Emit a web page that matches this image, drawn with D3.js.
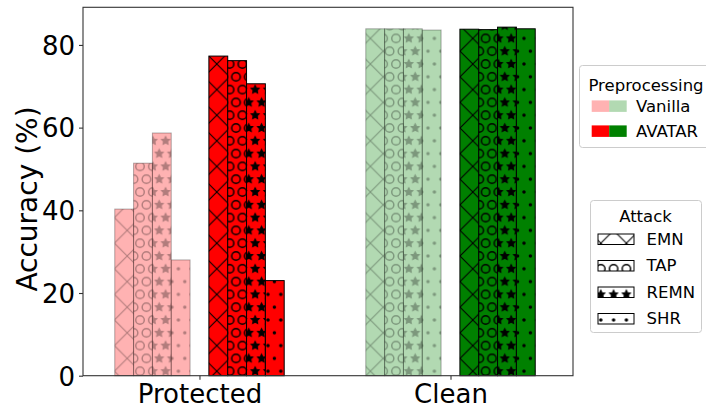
<!DOCTYPE html>
<html><head><meta charset="utf-8">
<script src="https://cdn.jsdelivr.net/npm/d3@7/dist/d3.min.js"></script>
<style>html,body{margin:0;padding:0;background:#fff}svg{display:block}</style>
</head><body>
<script>
// ---- data ----
const categories = ["Protected", "Clean"];
const attacks = ["EMN", "TAP", "REMN", "SHR"];
const preprocessings = ["Vanilla", "AVATAR"];
const vanillaProtected = [40.3, 51.4, 58.7, 28.0];
const avatarProtected = [77.3, 76.2, 70.6, 23.0];
const vanillaClean = [83.9, 83.9, 83.9, 83.6];
const avatarClean = [83.8, 83.7, 84.3, 83.9];
const yTicks = [0, 20, 40, 60, 80];
const yLabel = "Accuracy (%)";
const legendTitle1 = "Preprocessing";
const legendTitle2 = "Attack";

const W = 706, H = 409;
const FONT = "DejaVu Sans, Liberation Sans, sans-serif";
const RED = "#ff0000", GREEN = "#008000";
const catColors = [RED, GREEN];

const x = d3.scaleLinear().domain([-0.464, 1.488]).range([83, 573]);
const y = d3.scaleLinear().domain([0, 89.1]).range([375.7, 7.3]);
const barW = 0.075;

const svg = d3.select("body").append("svg").attr("width", W).attr("height", H)
  .attr("font-family", FONT);
const defs = svg.append("defs");

// hatch lattice (device-anchored)
const S = 12.8, OX = 12.0, OY = 12.8;
function starPath(cx, cy, R) {
  let p = "";
  for (let k = 0; k < 10; k++) {
    const a = -Math.PI / 2 + k * Math.PI / 5;
    const r = k % 2 === 0 ? R : R * 0.5;
    p += (k === 0 ? "M" : "L") + (cx + r * Math.cos(a)).toFixed(2) + "," + (cy + r * Math.sin(a)).toFixed(2);
  }
  return p + "Z";
}
const latticePts = [[0, 0], [S, 0], [0, 2 * S], [S, 2 * S], [S / 2, S]];
function makePattern(attack, shade) {
  const id = "h-" + attack + "-" + shade;
  const isX = attack === "EMN";
  const pw = isX ? 2 * S : S, ph = 2 * S;
  const pat = defs.append("pattern").attr("id", id).attr("patternUnits", "userSpaceOnUse")
    .attr("x", OX).attr("y", OY).attr("width", pw).attr("height", ph);
  const g = pat.append("g").attr("opacity", shade === "light" ? 0.3 : 1);
  if (isX) {
    const L = 2 * S;
    g.append("path").attr("d",
      `M-3,-3L${L + 3},${L + 3}M${L + 3},-3L-3,${L + 3}` +
      `M-3,${L - 3}L3,${L + 3}M${L - 3},-3L${L + 3},3` +
      `M-3,3L3,-3M${L - 3},${L + 3}L${L + 3},${L - 3}`)
      .attr("stroke", "#000").attr("stroke-width", 1.05).attr("fill", "none");
  } else if (attack === "TAP") {
    latticePts.forEach(([px, py]) => g.append("circle").attr("cx", px).attr("cy", py)
      .attr("r", 4.25).attr("fill", "none").attr("stroke", "#000").attr("stroke-width", 1.45));
  } else if (attack === "REMN") {
    latticePts.forEach(([px, py]) => g.append("path").attr("d", starPath(px, py, 4.3))
      .attr("fill", "#000").attr("stroke", "#000").attr("stroke-width", 1).attr("stroke-linejoin", "miter"));
  } else {
    latticePts.forEach(([px, py]) => g.append("circle").attr("cx", px).attr("cy", py)
      .attr("r", 1.75).attr("fill", "#000"));
  }
  return id;
}
const patIds = {};
attacks.forEach(a => { patIds[a] = { dark: makePattern(a, "dark"), light: makePattern(a, "light") }; });

// ---- bars ----
const seriesValues = [[vanillaProtected, vanillaClean], [avatarProtected, avatarClean]];
const bars = [];
preprocessings.forEach((pp, pi) => {
  attacks.forEach((att, ai) => {
    categories.forEach((cat, ci) => {
      const slot = pi === 0 ? ai - 4 : ai + 1;
      bars.push({ pp, pi, att, ai, cat, ci, slot, value: seriesValues[pi][ci][ai] });
    });
  });
});
const barLayer = svg.append("g");
bars.forEach(b => {
  const x0 = x(b.ci + b.slot * barW - barW / 2), x1 = x(b.ci + b.slot * barW + barW / 2);
  const y0 = y(b.value), y1 = y(0);
  const g = barLayer.append("g");
  const light = b.pi === 0;
  g.append("rect").attr("x", x0).attr("y", y0).attr("width", x1 - x0).attr("height", y1 - y0)
    .attr("fill", catColors[b.ci]).attr("fill-opacity", light ? 0.3 : 1);
  g.append("rect").attr("x", x0).attr("y", y0).attr("width", x1 - x0).attr("height", y1 - y0)
    .attr("fill", `url(#${patIds[b.att][light ? "light" : "dark"]})`);
  g.append("rect").attr("x", x0).attr("y", y0).attr("width", x1 - x0).attr("height", y1 - y0)
    .attr("fill", "none").attr("stroke", "#000").attr("stroke-opacity", light ? 0.3 : 1)
    .attr("stroke-width", 1);
});

// ---- axes ----
const [ax0, ax1] = x.range(), [ay0, ay1] = y.range();
svg.append("rect").attr("x", ax0).attr("y", ay1).attr("width", ax1 - ax0).attr("height", ay0 - ay1)
  .attr("fill", "none").attr("stroke", "#333").attr("stroke-width", 1.1);

const yAxis = d3.axisLeft(y).tickValues(yTicks).tickSize(4).tickPadding(4).tickFormat(d3.format("d"));
const gy = svg.append("g").attr("transform", `translate(${ax0},0)`).call(yAxis);
gy.select(".domain").remove();
gy.selectAll(".tick line").attr("stroke", "#333").attr("stroke-width", 1.1);
gy.selectAll(".tick text").attr("font-size", 26).attr("font-family", FONT).attr("fill", "#000").attr("dy", "0.36em");

const xBand = d3.scaleOrdinal().domain(categories).range(categories.map((c, i) => x(i)));
const xAxis = d3.axisBottom(xBand).tickSize(4).tickPadding(4);
const gx = svg.append("g").attr("transform", `translate(0,${ay0})`).call(xAxis);
gx.select(".domain").remove();
gx.selectAll(".tick line").attr("stroke", "#333").attr("stroke-width", 1.1);
gx.selectAll(".tick text").attr("font-size", 26).attr("font-family", FONT).attr("fill", "#000").attr("dy", "0.76em");

svg.append("text").attr("transform", `translate(37,199) rotate(-90)`)
  .attr("text-anchor", "middle").attr("font-size", 28).attr("fill", "#000").text(yLabel);

// ---- legends ----
function legendBox(x0, y0, w, h) {
  svg.append("rect").attr("x", x0 + 0.5).attr("y", y0 + 0.5).attr("width", w).attr("height", h)
    .attr("rx", 3).attr("fill", "#fff").attr("fill-opacity", 0.8).attr("stroke", "#cccccc").attr("stroke-width", 1);
}
// legend 1: Preprocessing
legendBox(579, 65, 134, 82);
svg.append("text").attr("x", 646).attr("y", 91).attr("text-anchor", "middle").attr("font-size", 16.5).text(legendTitle1);
preprocessings.forEach((pp, i) => {
  const cy = 106 + i * 25;
  catColors.forEach((c, k) => {
    svg.append("rect").attr("x", 591.7 + k * 17.5).attr("y", cy - 5.6).attr("width", 17.5).attr("height", 11.5)
      .attr("fill", c).attr("fill-opacity", i === 0 ? 0.3 : 1);
  });
  svg.append("text").attr("x", 636).attr("y", cy + 5.8).attr("font-size", 16.5).text(pp);
});
// legend 2: Attack
legendBox(590, 200, 111, 132);
svg.append("text").attr("x", 645.5).attr("y", 222).attr("text-anchor", "middle").attr("font-size", 16.5).text(legendTitle2);
attacks.forEach((att, i) => {
  const cy = 239 + i * 26.5;
  svg.append("rect").attr("x", 598).attr("y", cy - 5).attr("width", 36).attr("height", 10.5)
    .attr("fill", "#fff");
  svg.append("rect").attr("x", 598).attr("y", cy - 5).attr("width", 36).attr("height", 10.5)
    .attr("fill", `url(#${patIds[att].dark})`).attr("stroke", "#000").attr("stroke-width", 1);
  svg.append("text").attr("x", 646.5).attr("y", cy + 5.8).attr("font-size", 16.5).text(att);
});
</script>
</body></html>
